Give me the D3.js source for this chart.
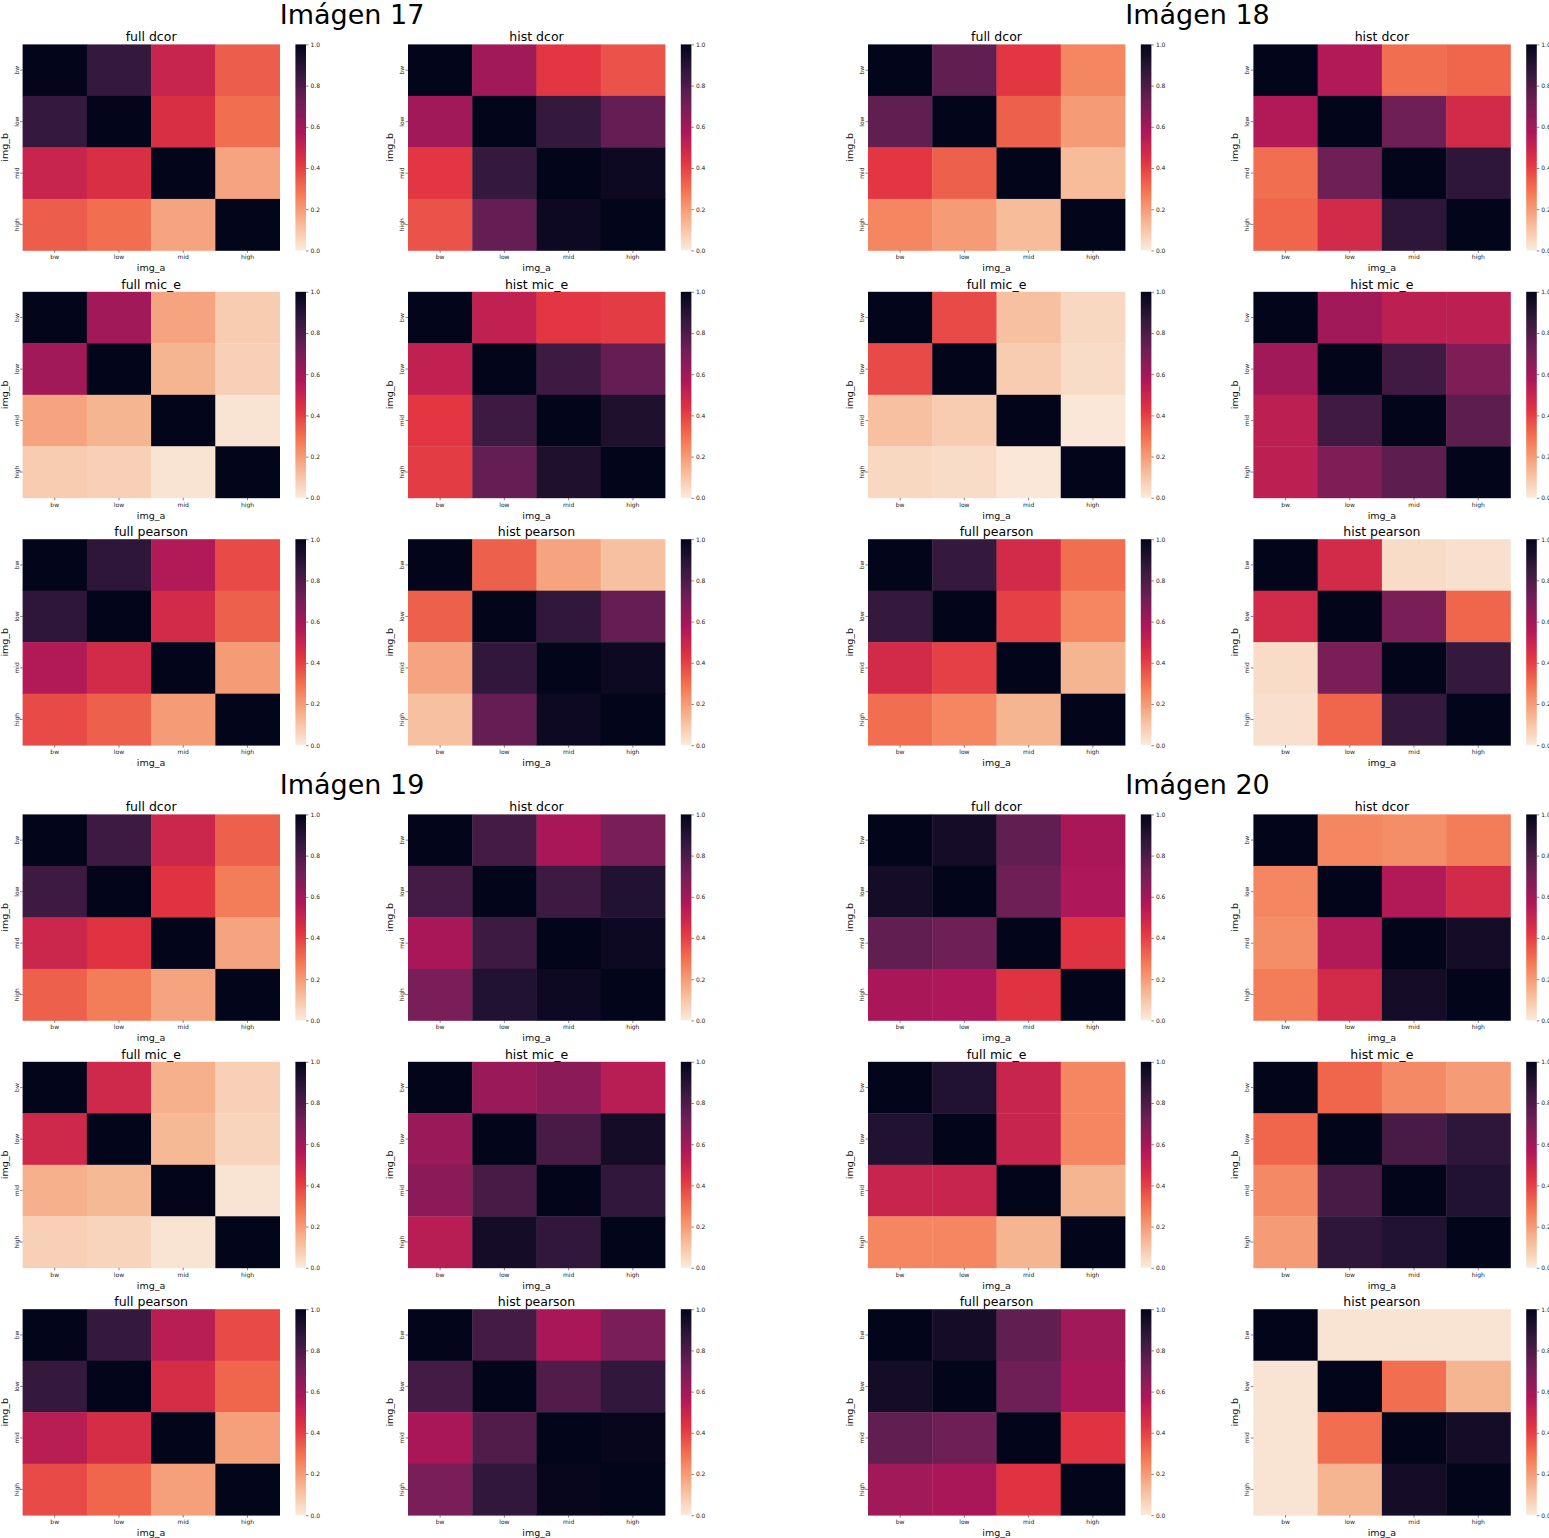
<!DOCTYPE html>
<html>
<head>
<meta charset="utf-8">
<script src="https://cdn.jsdelivr.net/npm/d3@7"></script>
<style>
  body { margin: 0; background: #fff; }
  text { font-family: "DejaVu Sans", sans-serif; }
</style>
</head>
<body>
<div id="chart"></div>
<script>
// categories and labels
const categories = ["bw", "low", "mid", "high"];
const images = ["Imágen 17", "Imágen 18", "Imágen 19", "Imágen 20"];
const panelTitles = ["full dcor", "hist dcor", "full mic_e", "hist mic_e", "full pearson", "hist pearson"];
const cbTicks = [0, 0.2, 0.4, 0.6, 0.8, 1.0];

// Imágen 17  (rows = img_b, cols = img_a)
const img17_full_dcor    = [[1, 0.86, 0.5, 0.34], [0.86, 1, 0.45, 0.3], [0.5, 0.45, 1, 0.18], [0.34, 0.3, 0.18, 1]];
const img17_hist_dcor    = [[1, 0.6, 0.42, 0.36], [0.6, 1, 0.86, 0.74], [0.42, 0.86, 1, 0.97], [0.36, 0.74, 0.97, 1]];
const img17_full_mic_e   = [[1, 0.6, 0.18, 0.08], [0.6, 1, 0.14, 0.07], [0.18, 0.14, 1, 0.02], [0.08, 0.07, 0.02, 1]];
const img17_hist_mic_e   = [[1, 0.52, 0.42, 0.41], [0.52, 1, 0.84, 0.74], [0.42, 0.84, 1, 0.92], [0.41, 0.74, 0.92, 1]];
const img17_full_pearson = [[1, 0.88, 0.56, 0.38], [0.88, 1, 0.47, 0.33], [0.56, 0.47, 1, 0.2], [0.38, 0.33, 0.2, 1]];
const img17_hist_pearson = [[1, 0.33, 0.18, 0.11], [0.33, 1, 0.87, 0.74], [0.18, 0.87, 1, 0.97], [0.11, 0.74, 0.97, 1]];

// Imágen 18
const img18_full_dcor    = [[1, 0.75, 0.42, 0.25], [0.75, 1, 0.33, 0.2], [0.42, 0.33, 1, 0.12], [0.25, 0.2, 0.12, 1]];
const img18_hist_dcor    = [[1, 0.56, 0.3, 0.32], [0.56, 1, 0.72, 0.47], [0.3, 0.72, 1, 0.88], [0.32, 0.47, 0.88, 1]];
const img18_full_mic_e   = [[1, 0.38, 0.11, 0.05], [0.38, 1, 0.08, 0.04], [0.11, 0.08, 1, 0.01], [0.05, 0.04, 0.01, 1]];
const img18_hist_mic_e   = [[1, 0.6, 0.53, 0.53], [0.6, 1, 0.83, 0.68], [0.53, 0.83, 1, 0.76], [0.53, 0.68, 0.76, 1]];
const img18_full_pearson = [[1, 0.86, 0.47, 0.3], [0.86, 1, 0.4, 0.25], [0.47, 0.4, 1, 0.14], [0.3, 0.25, 0.14, 1]];
const img18_hist_pearson = [[1, 0.47, 0.04, 0.03], [0.47, 1, 0.69, 0.32], [0.04, 0.69, 1, 0.86], [0.03, 0.32, 0.86, 1]];

// Imágen 19
const img19_full_dcor    = [[1, 0.84, 0.49, 0.33], [0.84, 1, 0.43, 0.27], [0.49, 0.43, 1, 0.18], [0.33, 0.27, 0.18, 1]];
const img19_hist_dcor    = [[1, 0.82, 0.58, 0.69], [0.82, 1, 0.84, 0.91], [0.58, 0.84, 1, 0.97], [0.69, 0.91, 0.97, 1]];
const img19_full_mic_e   = [[1, 0.48, 0.15, 0.07], [0.48, 1, 0.13, 0.06], [0.15, 0.13, 1, 0.02], [0.07, 0.06, 0.02, 1]];
const img19_hist_mic_e   = [[1, 0.62, 0.65, 0.54], [0.62, 1, 0.81, 0.95], [0.65, 0.81, 1, 0.87], [0.54, 0.95, 0.87, 1]];
const img19_full_pearson = [[1, 0.86, 0.54, 0.38], [0.86, 1, 0.46, 0.32], [0.54, 0.46, 1, 0.19], [0.38, 0.32, 0.19, 1]];
const img19_hist_pearson = [[1, 0.82, 0.58, 0.69], [0.82, 1, 0.79, 0.87], [0.58, 0.79, 1, 0.99], [0.69, 0.87, 0.99, 1]];

// Imágen 20
const img20_full_dcor    = [[1, 0.95, 0.75, 0.58], [0.95, 1, 0.72, 0.57], [0.75, 0.72, 1, 0.43], [0.58, 0.57, 0.43, 1]];
const img20_hist_dcor    = [[1, 0.25, 0.23, 0.27], [0.25, 1, 0.56, 0.47], [0.23, 0.56, 1, 0.95], [0.27, 0.47, 0.95, 1]];
const img20_full_mic_e   = [[1, 0.91, 0.5, 0.25], [0.91, 1, 0.5, 0.25], [0.5, 0.5, 1, 0.14], [0.25, 0.25, 0.14, 1]];
const img20_hist_mic_e   = [[1, 0.32, 0.24, 0.2], [0.32, 1, 0.81, 0.88], [0.24, 0.81, 1, 0.91], [0.2, 0.88, 0.91, 1]];
const img20_full_pearson = [[1, 0.95, 0.75, 0.6], [0.95, 1, 0.72, 0.58], [0.75, 0.72, 1, 0.43], [0.6, 0.58, 0.43, 1]];
const img20_hist_pearson = [[1, 0.02, 0.02, 0.02], [0.02, 1, 0.3, 0.14], [0.02, 0.3, 1, 0.95], [0.02, 0.14, 0.95, 1]];

const matrices = [
    [img17_full_dcor, img17_hist_dcor, img17_full_mic_e, img17_hist_mic_e, img17_full_pearson, img17_hist_pearson],
    [img18_full_dcor, img18_hist_dcor, img18_full_mic_e, img18_hist_mic_e, img18_full_pearson, img18_hist_pearson],
    [img19_full_dcor, img19_hist_dcor, img19_full_mic_e, img19_hist_mic_e, img19_full_pearson, img19_hist_pearson],
    [img20_full_dcor, img20_hist_dcor, img20_full_mic_e, img20_hist_mic_e, img20_full_pearson, img20_hist_pearson]
];

// rocket_r colour map (0 = cream, 1 = near black)
const rocketColors = ["#faebdd", "#f6b48f", "#f37651", "#e13342", "#ad1759", "#701f57", "#35193e", "#03051a"];
const color = d3.scaleLinear()
    .domain(rocketColors.map((c, i) => i / (rocketColors.length - 1)))
    .range(rocketColors)
    .clamp(true);

// layout
const width = 1549, height = 1538;
const groupX = [0, 845.4], groupY = [0, 770];
const colLeft = [22.6, 408], rowTop = [44.4, 291.8, 539.2];
const pw = 257, ph = 206;
const cbOffset = 272.8, cbWidth = 10.6;

const svg = d3.select("#chart")
    .append("svg")
    .attr("width", width)
    .attr("height", height)
    .style("background-color", "#fff");

// gradient for colour bars
const grad = svg.append("defs").append("linearGradient")
    .attr("id", "rocket")
    .attr("x1", 0).attr("y1", 1).attr("x2", 0).attr("y2", 0);
d3.range(0, 1.0001, 0.02).forEach(t => {
    grad.append("stop").attr("offset", t).attr("stop-color", color(t));
});

const x = d3.scaleBand().domain(categories).range([0, pw]);
const y = d3.scaleBand().domain(categories).range([0, ph]);
const cbScale = d3.scaleLinear().domain([0, 1]).range([ph, 0]);

images.forEach((imgName, gi) => {
    const gx = groupX[gi % 2], gy = groupY[Math.floor(gi / 2)];
    const group = svg.append("g").attr("transform", `translate(${gx},${gy})`);

    // big image title
    group.append("text")
        .attr("x", colLeft[0] + 329.5)
        .attr("y", 24)
        .attr("text-anchor", "middle")
        .style("font-size", "27px")
        .attr("fill", "#000")
        .text(imgName);

    panelTitles.forEach((title, pi) => {
        const data = matrices[gi][pi];
        const left = colLeft[pi % 2], top = rowTop[Math.floor(pi / 2)];
        const panel = group.append("g").attr("transform", `translate(${left},${top})`);

        // cells
        const cells = [];
        data.forEach((row, r) => row.forEach((v, c) => cells.push({ r: categories[r], c: categories[c], v })));
        panel.selectAll("rect.cell")
            .data(cells)
            .enter()
            .append("rect")
            .attr("class", "cell")
            .attr("x", d => x(d.c))
            .attr("y", d => y(d.r))
            .attr("width", x.bandwidth() + 0.4)
            .attr("height", y.bandwidth() + 0.4)
            .attr("fill", d => color(d.v));

        // x axis
        const xAxis = panel.append("g")
            .attr("transform", `translate(0,${ph})`)
            .call(d3.axisBottom(x).tickSize(2.5).tickPadding(2));
        xAxis.select(".domain").remove();
        xAxis.selectAll("line").attr("stroke", "#333").attr("stroke-width", 0.6);
        xAxis.selectAll("text").style("font-size", "6px").attr("fill", "#222");

        // y axis with vertical labels
        const yAxis = panel.append("g")
            .call(d3.axisLeft(y).tickSize(2.5).tickPadding(2));
        yAxis.select(".domain").remove();
        yAxis.selectAll("line").attr("stroke", "#333").attr("stroke-width", 0.6);
        yAxis.selectAll("text")
            .attr("x", 0)
            .attr("y", -4)
            .attr("dy", 0)
            .attr("text-anchor", "middle")
            .attr("transform", "rotate(-90)")
            .style("font-size", "6px")
            .attr("fill", "#222");

        // panel title
        panel.append("text")
            .attr("x", pw / 2)
            .attr("y", -3)
            .attr("text-anchor", "middle")
            .style("font-size", "12.5px")
            .attr("fill", "#000")
            .text(title);

        // axis labels
        panel.append("text")
            .attr("x", pw / 2)
            .attr("y", ph + 21)
            .attr("text-anchor", "middle")
            .style("font-size", "9.5px")
            .attr("fill", "#111")
            .text("img_a");
        panel.append("text")
            .attr("transform", `translate(-15,${ph / 2}) rotate(-90)`)
            .attr("text-anchor", "middle")
            .style("font-size", "9.5px")
            .attr("fill", "#111")
            .text("img_b");

        // colour bar
        const cb = panel.append("g").attr("transform", `translate(${cbOffset},0)`);
        cb.append("rect")
            .attr("width", cbWidth)
            .attr("height", ph)
            .attr("fill", "url(#rocket)");
        const cbAxis = cb.append("g")
            .attr("transform", `translate(${cbWidth},0)`)
            .call(d3.axisRight(cbScale).tickValues(cbTicks).tickFormat(d3.format(".1f")).tickSize(2.5).tickPadding(2));
        cbAxis.select(".domain").remove();
        cbAxis.selectAll("line").attr("stroke", "#333").attr("stroke-width", 0.6);
        cbAxis.selectAll("text").style("font-size", "6px").attr("fill", "#222");
    });
});
</script>
</body>
</html>
